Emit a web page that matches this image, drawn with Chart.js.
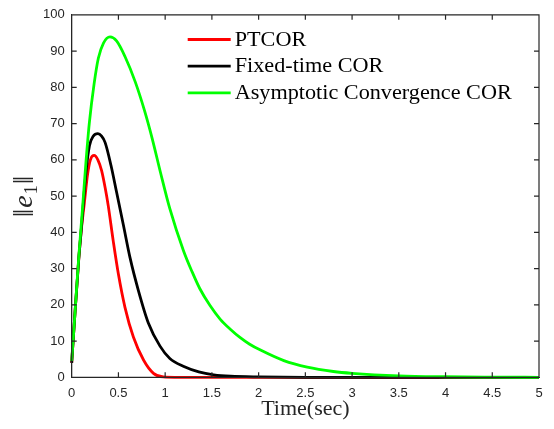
<!DOCTYPE html>
<html>
<head>
<meta charset="utf-8">
<script src="https://cdn.jsdelivr.net/npm/chart.js@4.4.1/dist/chart.umd.min.js"></script>
<style>
  html, body { margin: 0; padding: 0; background: #fff; }
</style>
</head>
<body>
<canvas id="myChart" width="554" height="429"></canvas>
<script>
// values
const seriesNames = ["PTCOR", "Fixed-time COR", "Asymptotic Convergence COR"];

const timePTCOR = [0, 0.028, 0.075, 0.1, 0.135, 0.17, 0.2, 0.24, 0.28, 0.32, 0.36, 0.39, 0.445, 0.5, 0.57, 0.66, 0.77, 0.875, 0.98, 1.1, 1.5, 2, 3, 4, 5];
const valPTCOR = [4, 15, 32.5, 40, 48, 56, 60, 61.2, 60, 57, 52, 47.5, 37.5, 28.4, 19.3, 11.1, 4.7, 1.1, 0.1, 0, 0, 0, 0, 0, 0];

const timeFixed = [0, 0.028, 0.075, 0.1, 0.153, 0.19, 0.23, 0.28, 0.32, 0.357, 0.42, 0.48, 0.553, 0.624, 0.713, 0.82, 0.945, 1.05, 1.2, 1.36, 1.52, 1.7, 2.0, 2.5, 3, 4, 5];
const valFixed = [4, 15, 32.5, 40, 56.6, 63.9, 66.5, 67.2, 66.5, 64.8, 58.5, 51.1, 42, 33, 24, 15, 8.6, 5.2, 3.0, 1.5, 0.7, 0.3, 0.1, 0, 0, 0, 0];

const timeAsym = [0, 0.028, 0.075, 0.117, 0.153, 0.188, 0.24, 0.285, 0.34, 0.41, 0.48, 0.57, 0.68, 0.78, 0.86, 0.95, 1.05, 1.195, 1.29, 1.37, 1.48, 1.59, 1.7, 1.8, 1.9, 2.02, 2.27, 2.52, 2.8, 3.0, 3.5, 4.0, 4.5, 5];
const valAsym = [4.5, 15, 33, 47, 59.5, 70, 81, 88, 92.2, 93.9, 92.8, 88.5, 81.5, 73.5, 66, 56.5, 46.5, 35, 29, 24.5, 19.8, 16, 13.2, 11, 9.2, 7.5, 4.6, 2.8, 1.6, 1.1, 0.4, 0.15, 0.05, 0];

const xTicks = [0, 0.5, 1, 1.5, 2, 2.5, 3, 3.5, 4, 4.5, 5];
const xTickLabels = ["0", "0.5", "1", "1.5", "2", "2.5", "3", "3.5", "4", "4.5", "5"];
const yTicks = [0, 10, 20, 30, 40, 50, 60, 70, 80, 90, 100];
const yTickLabels = ["0", "10", "20", "30", "40", "50", "60", "70", "80", "90", "100"];

const axisColor = "#262626";
const tickLen = 5;

const toPoints = (ts, vs) => ts.map((t, i) => ({ x: t, y: vs[i] }));

// box, inward ticks, legend and axis titles, all drawn after the chart
const decorPlugin = {
  id: "decor",
  afterDraw(chart) {
    const c = chart.ctx;
    const a = chart.chartArea;
    const sx = chart.scales.x, sy = chart.scales.y;

    // box with inward ticks on all four sides
    c.save();
    c.strokeStyle = axisColor;
    c.lineWidth = 1.2;
    c.beginPath();
    c.moveTo(a.left, a.top); c.lineTo(a.right, a.top); c.lineTo(a.right, a.bottom);
    c.lineTo(a.left, a.bottom); c.closePath();
    xTicks.forEach((v) => {
      const px = sx.getPixelForValue(v);
      c.moveTo(px, a.bottom); c.lineTo(px, a.bottom - tickLen);
      c.moveTo(px, a.top); c.lineTo(px, a.top + tickLen);
    });
    yTicks.forEach((v) => {
      const py = sy.getPixelForValue(v);
      c.moveTo(a.left, py); c.lineTo(a.left + tickLen, py);
      c.moveTo(a.right, py); c.lineTo(a.right - tickLen, py);
    });
    c.stroke();
    c.restore();

    // legend inside the plot, no box
    const x0 = a.left + 116, x1 = a.left + 159, tx = a.left + 163;
    c.save();
    c.font = "20px 'Liberation Serif'";
    c.textBaseline = "middle";
    c.fillStyle = "#000";
    chart.data.datasets.forEach((ds, i) => {
      const y = a.top + 24.7 + i * 26.7;
      c.strokeStyle = ds.borderColor;
      c.lineWidth = 2.8;
      c.beginPath();
      c.moveTo(x0, y); c.lineTo(x1, y);
      c.stroke();
      c.save();
      c.translate(tx, y + 1);
      c.scale(1.11, 1);
      c.fillText(ds.label, 0, 0);
      c.restore();
    });
    c.restore();

    // axis titles: Time(sec) and ||e_1||
    c.save();
    c.fillStyle = axisColor;
    c.font = "22px 'Liberation Serif'";
    c.textAlign = "center";
    c.textBaseline = "middle";
    c.fillText("Time(sec)", (a.left + a.right) / 2, 409);

    c.translate(23, (a.top + a.bottom) / 2);
    c.rotate(-Math.PI / 2);
    c.textAlign = "left";
    c.textBaseline = "alphabetic";
    const parts = [
      { t: "\u2016", f: "30px 'Liberation Serif'", dy: 1 },
      { t: "e", f: "italic 28px 'Liberation Serif'", dy: 0 },
      { t: "1", f: "18px 'Liberation Serif'", dy: 5 },
      { t: "\u2016", f: "30px 'Liberation Serif'", dy: 1 },
    ];
    let total = 0;
    parts.forEach((p) => { c.font = p.f; p.w = c.measureText(p.t).width + 1; total += p.w; });
    let x = -total / 2;
    parts.forEach((p) => {
      c.font = p.f;
      c.fillText(p.t, x, 9 + p.dy);
      x += p.w;
    });
    c.restore();
  },
};

const lineStyle = { borderWidth: 2.8, pointRadius: 0, tension: 0.4, cubicInterpolationMode: "monotone", fill: false, clip: 6 };
const tickFont = { family: "'Liberation Sans'", size: 13 };

const ctx = document.getElementById("myChart").getContext("2d");
const myChart = new Chart(ctx, {
  type: "line",
  data: {
    datasets: [
      { label: seriesNames[0], data: toPoints(timePTCOR, valPTCOR), borderColor: "#ff0000", order: 3, ...lineStyle },
      { label: seriesNames[1], data: toPoints(timeFixed, valFixed), borderColor: "#000000", order: 2, ...lineStyle },
      { label: seriesNames[2], data: toPoints(timeAsym, valAsym), borderColor: "#00ff00", order: 1, ...lineStyle },
    ],
  },
  options: {
    responsive: false,
    animation: false,
    devicePixelRatio: 1,
    layout: { padding: { top: 11, right: 15, left: 0, bottom: 0 } },
    plugins: { legend: { display: false }, tooltip: { enabled: false } },
    scales: {
      x: {
        type: "linear",
        min: 0,
        max: 5,
        grid: { display: false, drawTicks: false },
        border: { display: true, color: axisColor, width: 1 },
        afterBuildTicks: (s) => { s.ticks = xTicks.map((v) => ({ value: v })); },
        afterFit: (s) => { s.height = 51.7; },
        ticks: { padding: 8, color: axisColor, maxRotation: 0, autoSkip: false, font: tickFont,
          callback: (v, i) => xTickLabels[i] },
      },
      y: {
        type: "linear",
        min: 0,
        max: 100,
        grid: { display: false, drawTicks: false },
        border: { display: true, color: axisColor, width: 1 },
        afterBuildTicks: (s) => { s.ticks = yTicks.map((v) => ({ value: v })); },
        afterFit: (s) => { s.width = 71.7; },
        ticks: { padding: 7, color: axisColor, autoSkip: false, font: tickFont,
          callback: (v, i) => yTickLabels[i] },
      },
    },
  },
  plugins: [decorPlugin],
});
</script>
</body>
</html>
